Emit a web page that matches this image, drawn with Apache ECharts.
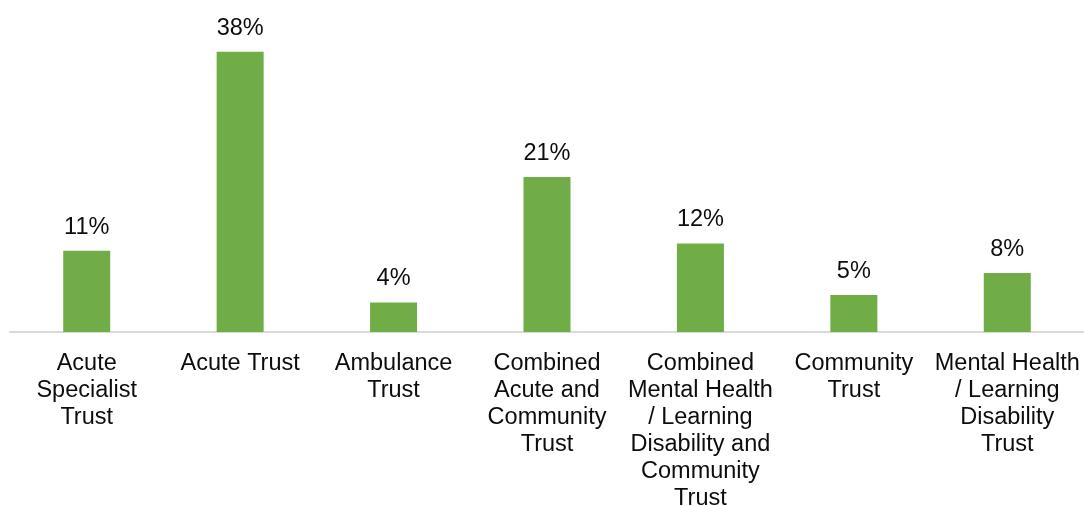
<!DOCTYPE html>
<html>
<head>
<meta charset="utf-8">
<script src="https://cdn.jsdelivr.net/npm/echarts@6/dist/echarts.min.js"></script>
<style>
  html, body { margin: 0; padding: 0; background: #ffffff; }
  #chart { width: 1084px; height: 506px; }
</style>
</head>
<body>
<div id="chart"></div>
<script>
// Share of responses by trust type (percent)
const categories = [
  'Acute\nSpecialist\nTrust',
  'Acute Trust',
  'Ambulance\nTrust',
  'Combined\nAcute and\nCommunity\nTrust',
  'Combined\nMental Health\n/ Learning\nDisability and\nCommunity\nTrust',
  'Community\nTrust',
  'Mental Health\n/ Learning\nDisability\nTrust'
];
const shares = [11, 38, 4, 21, 12, 5, 8];

const chart = echarts.init(document.getElementById('chart'), null, { renderer: 'canvas' });

const font = '"Liberation Sans", Arial, sans-serif';

chart.setOption({
  animation: false,
  grid: {
    left: 10, right: 0, top: 0, bottom: 174,
    containLabel: false,
    outerBoundsMode: 'none'
  },
  xAxis: {
    type: 'category',
    data: categories,
    axisLine: { show: true, lineStyle: { color: '#d9d9d9', width: 2 } },
    axisTick: { show: false },
    axisLabel: {
      interval: 0,
      margin: 18,
      color: '#0d0d0d',
      fontFamily: font,
      fontSize: 23.5,
      lineHeight: 27,
      align: 'center'
    }
  },
  yAxis: {
    type: 'value',
    min: 0,
    max: 45,
    show: false,
    splitLine: { show: false }
  },
  series: [{
    type: 'bar',
    data: shares,
    barWidth: 47,
    itemStyle: { color: '#70ad47' },
    label: {
      show: true,
      position: 'top',
      distance: 10,
      formatter: p => p.value + '%',
      color: '#0d0d0d',
      fontFamily: font,
      fontSize: 23.5,
      lineHeight: 27
    }
  }]
});
</script>
</body>
</html>
